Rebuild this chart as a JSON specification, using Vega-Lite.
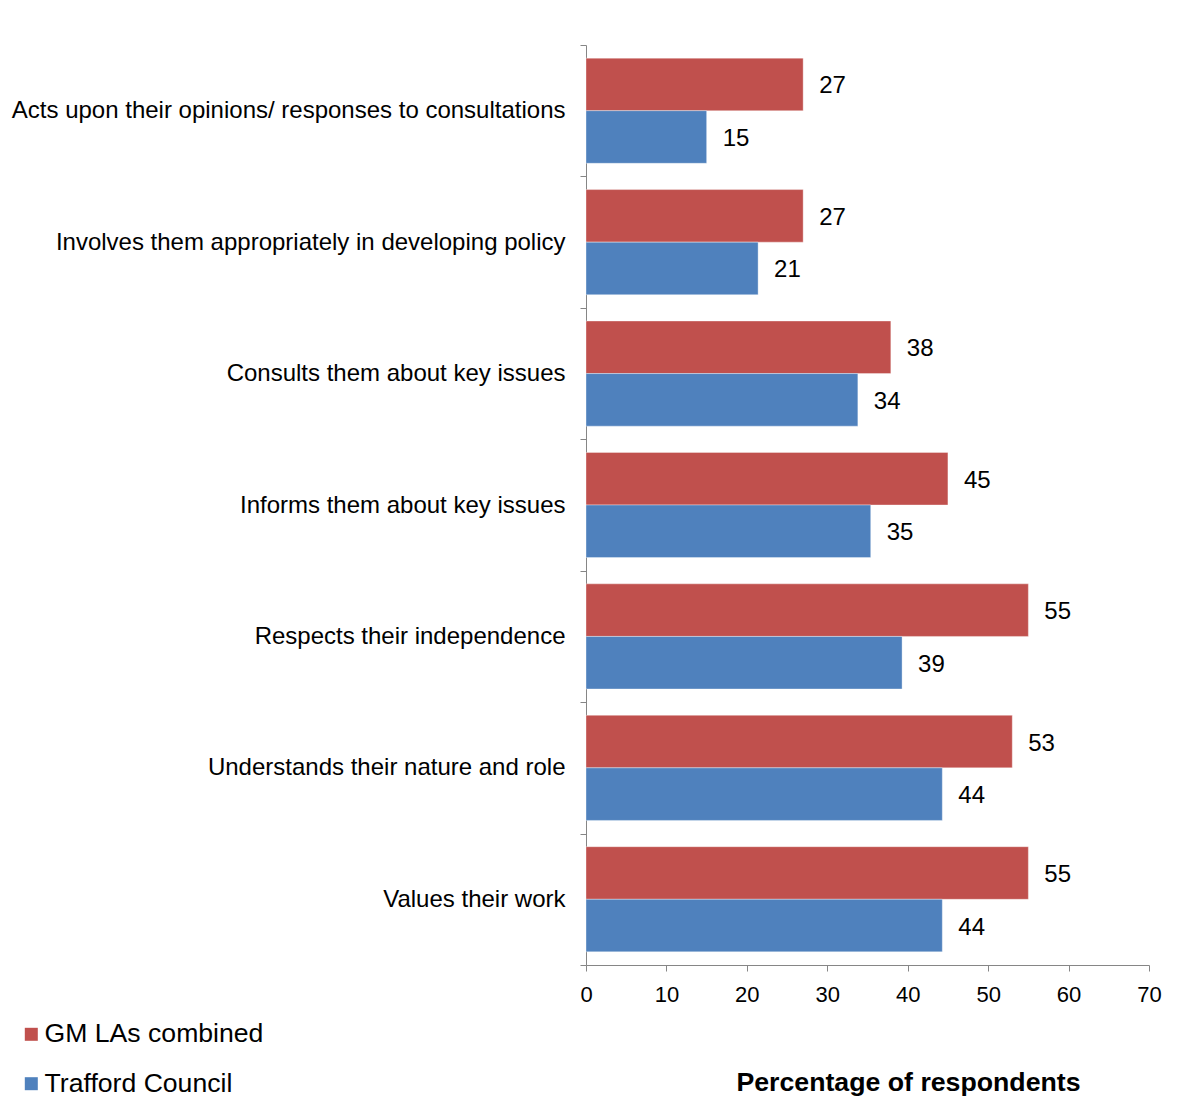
{
  "$schema": "https://vega.github.io/schema/vega-lite/v6.json",
  "width": 563,
  "height": 920,
  "autosize": {"type": "none"},
  "padding": {"left": 586, "top": 45, "right": 32, "bottom": 147},
  "background": "white",
  "config": {"view": {"stroke": null}, "font": "Liberation Sans"},
  "data": {
    "values": [
      {"item": "Acts upon their opinions/ responses to consultations", "series": "GM LAs combined", "value": 27.0},
      {"item": "Acts upon their opinions/ responses to consultations", "series": "Trafford Council", "value": 15.0},
      {"item": "Involves them appropriately in developing policy", "series": "GM LAs combined", "value": 27.0},
      {"item": "Involves them appropriately in developing policy", "series": "Trafford Council", "value": 21.4},
      {"item": "Consults them about key issues", "series": "GM LAs combined", "value": 37.9},
      {"item": "Consults them about key issues", "series": "Trafford Council", "value": 33.8},
      {"item": "Informs them about key issues", "series": "GM LAs combined", "value": 45.0},
      {"item": "Informs them about key issues", "series": "Trafford Council", "value": 35.4},
      {"item": "Respects their independence", "series": "GM LAs combined", "value": 55.0},
      {"item": "Respects their independence", "series": "Trafford Council", "value": 39.3},
      {"item": "Understands their nature and role", "series": "GM LAs combined", "value": 53.0},
      {"item": "Understands their nature and role", "series": "Trafford Council", "value": 44.3},
      {"item": "Values their work", "series": "GM LAs combined", "value": 55.0},
      {"item": "Values their work", "series": "Trafford Council", "value": 44.3}
    ]
  },
  "encoding": {
    "y": {
      "field": "item",
      "type": "nominal",
      "sort": null,
      "scale": {"paddingInner": 0, "paddingOuter": 0},
      "axis": {
        "title": null,
        "tickBand": "extent",
        "domainColor": "#868686",
        "tickColor": "#868686",
        "tickSize": 6,
        "labelFontSize": 24,
        "labelColor": "black",
        "labelPadding": 15,
        "labelLimit": 0
      }
    },
    "yOffset": {
      "field": "series",
      "type": "nominal",
      "sort": ["GM LAs combined", "Trafford Council"],
      "scale": {"paddingInner": 0, "paddingOuter": 0.25}
    },
    "x": {
      "field": "value",
      "type": "quantitative",
      "scale": {"domain": [0, 70], "nice": false},
      "axis": {
        "values": [0, 10, 20, 30, 40, 50, 60, 70],
        "grid": false,
        "tickSize": 6,
        "labelFontSize": 22,
        "labelPadding": 13,
        "labelFlush": false,
        "labelColor": "black",
        "domainColor": "#868686",
        "tickColor": "#868686",
        "title": "Percentage of respondents",
        "titleFontSize": 26.7,
        "titleFontWeight": "bold",
        "titleColor": "black",
        "titleX": 322,
        "titleY": 117,
        "titleBaseline": "middle"
      }
    }
  },
  "layer": [
    {
      "mark": {"type": "bar", "stroke": "#ffffff", "strokeWidth": 0.6, "strokeOpacity": 0.6},
      "encoding": {
        "color": {
          "field": "series",
          "type": "nominal",
          "sort": ["GM LAs combined", "Trafford Council"],
          "scale": {"domain": ["GM LAs combined", "Trafford Council"], "range": ["#C0504D", "#4F81BD"]},
          "legend": {
            "orient": "none",
            "legendX": -568,
            "legendY": 976,
            "title": null,
            "symbolType": "square",
            "symbolSize": 169,
            "symbolStrokeWidth": 0,
            "labelFontSize": 26.6,
            "labelOffset": 0,
            "labelLimit": 0,
            "labelColor": "black",
            "rowPadding": 22.4,
            "padding": 0
          }
        }
      }
    },
    {
      "mark": {"type": "text", "align": "left", "baseline": "middle", "dx": 16, "dy": 2, "fontSize": 24, "color": "black"},
      "encoding": {"text": {"field": "value", "type": "quantitative", "format": ".0f"}}
    }
  ]
}
